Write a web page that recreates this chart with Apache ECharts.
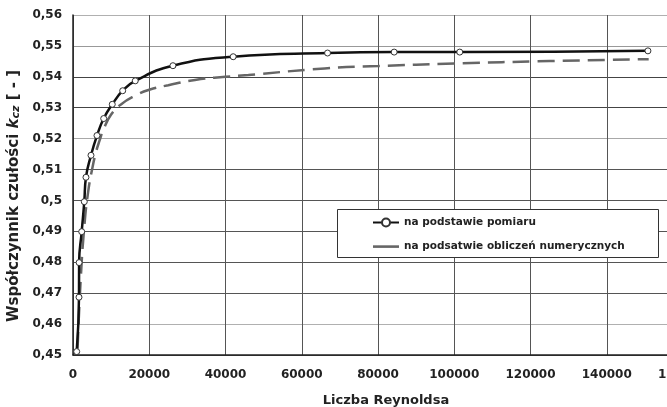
<!DOCTYPE html>
<html>
<head>
<meta charset="utf-8">
<script src="https://cdn.jsdelivr.net/npm/echarts@6/dist/echarts.min.js"></script>
<style>
	html, body { margin: 0; padding: 0; background: #fff; overflow: hidden; }
	/* wykres jest uciety z prawej strony, wiec kontener jest szerszy niz okno */
	#chart { width: 700px; height: 407px; }
</style>
</head>
<body>
<div id="chart"></div>
<script>
// pomiar (biale kolka)
const reynoldsPomiar = [970, 1570, 1600, 2280, 2960, 3400, 4720, 6290, 8050, 10300, 13030, 16330, 26210, 42020, 66770, 84240, 101440, 150800]
const kczPomiar = [0.4511, 0.4687, 0.4799, 0.4899, 0.4996, 0.5075, 0.5146, 0.5210, 0.5265, 0.5311, 0.5355, 0.5387, 0.5436, 0.5465, 0.5477, 0.5480, 0.5480, 0.5484]

// obliczenia numeryczne (linia przerywana)
const reynoldsNum = [1200, 2000, 3000, 4000, 5000, 6000, 7000, 8000, 10000, 12500, 16500, 20000, 25000, 32000, 40000, 46000, 66000, 80000, 100000, 125000, 151000]
const kczNum = [0.452, 0.474, 0.492, 0.503, 0.510, 0.5155, 0.5195, 0.523, 0.5278, 0.531, 0.534, 0.5358, 0.5373, 0.539, 0.540, 0.5406, 0.5427, 0.5435, 0.5443, 0.5451, 0.5457]

const seriesNames = ['na podstawie pomiaru', 'na podsatwie obliczeń numerycznych']

// kolory linii siatki poziomej, od 0,45 do 0,56
const hGridColors = ['#444', '#b0b0b0', '#555', '#555', '#555', '#555', '#555', '#a8a8a8', '#444', '#444', '#999', '#b0b0b0']

const labelFont = 'DejaVu Sans'

function zip(xs, ys) {
	return xs.map((x, i) => [x, ys[i]])
}

const chart = echarts.init(document.getElementById('chart'))

chart.setOption({
	animation: false,
	backgroundColor: '#fff',
	grid: {
		left: 73,
		top: 15,
		right: 17,
		bottom: 52,
		// v6 domyslnie sciska siatke, zeby etykiety sie miescily - tu nie chcemy
		outerBoundsMode: 'none',
		containLabel: false
	},
	graphic: [{
		// ramka legendy
		type: 'rect',
		left: 337,
		top: 209,
		z: 5,
		shape: { width: 321, height: 48 },
		style: { fill: '#fff', stroke: '#333', lineWidth: 1 }
	}],
	legend: {
		orient: 'vertical',
		left: 372,
		top: 217,
		z: 10,
		itemWidth: 26,
		itemHeight: 10,
		itemGap: 13,
		padding: 0,
		textStyle: {
			fontFamily: labelFont,
			fontWeight: 'bold',
			fontSize: 10.5,
			color: '#222'
		},
		data: [
			{ name: seriesNames[0] },
			// linia bez znacznika, tylko szary pasek
			{ name: seriesNames[1], icon: 'path://M0,0L0,0M0,3.8H26V6.4H0ZM26,10L26,10' }
		]
	},
	xAxis: {
		type: 'value',
		min: 0,
		max: 160000,
		interval: 20000,
		name: 'Liczba Reynoldsa',
		nameLocation: 'middle',
		nameGap: 39,
		nameTextStyle: {
			fontFamily: labelFont,
			fontWeight: 'bold',
			fontSize: 13,
			color: '#222',
			padding: [0, 0, 0, 16]
		},
		axisLine: { show: true, lineStyle: { color: '#222', width: 1.5 } },
		axisTick: { show: false },
		axisLabel: {
			margin: 14,
			fontFamily: labelFont,
			fontWeight: 'bold',
			fontSize: 12,
			color: '#222',
			formatter: v => String(v)
		},
		splitLine: { show: true, lineStyle: { color: '#555', width: 1 } }
	},
	yAxis: {
		type: 'value',
		min: 0.45,
		max: 0.56,
		interval: 0.01,
		name: 'Współczynnik czułości {i|k}{s|cz} [ - ]',
		nameLocation: 'middle',
		nameRotate: 90,
		nameGap: 50,
		nameTextStyle: {
			fontFamily: labelFont,
			fontWeight: 'bold',
			fontSize: 15,
			color: '#222',
			padding: [0, 22, 0, 0],
			rich: {
				i: { fontFamily: labelFont, fontWeight: 'bold', fontStyle: 'italic', fontSize: 15, color: '#222' },
				s: { fontFamily: labelFont, fontWeight: 'bold', fontStyle: 'italic', fontSize: 11, color: '#222', verticalAlign: 'bottom', padding: [4, 0, 0, 0] }
			}
		},
		axisLine: { show: true, lineStyle: { color: '#222', width: 1.5 } },
		axisTick: { show: false },
		axisLabel: {
			margin: 11,
			fontFamily: labelFont,
			fontWeight: 'bold',
			fontSize: 12,
			color: '#222',
			formatter: v => String(+v.toFixed(2)).replace('.', ',')
		},
		splitLine: { show: true, lineStyle: { color: hGridColors, width: 1 } }
	},
	series: [
		{
			name: seriesNames[1],
			type: 'line',
			data: zip(reynoldsNum, kczNum),
			smooth: true,
			showSymbol: false,
			symbol: 'none',
			z: 2,
			lineStyle: { color: '#666', width: 2.5, type: [17, 8] },
			itemStyle: { color: '#666' }
		},
		{
			name: seriesNames[0],
			type: 'line',
			data: zip(reynoldsPomiar, kczPomiar),
			smooth: true,
			symbol: 'circle',
			symbolSize: 6,
			z: 3,
			lineStyle: { color: '#111', width: 2.5 },
			itemStyle: { color: '#fff', borderColor: '#333', borderWidth: 1 }
		}
	]
})
</script>
</body>
</html>
